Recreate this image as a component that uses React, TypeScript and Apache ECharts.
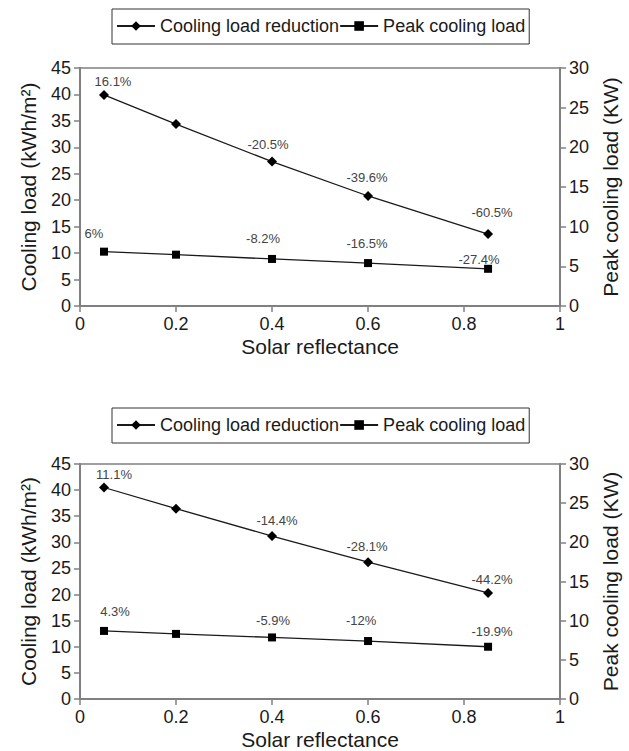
import React, { useEffect, useRef } from 'react';
import * as echarts from 'echarts';

// ---- data ----
const reflectance = [0.05, 0.2, 0.4, 0.6, 0.85];

const topCoolingLoad = [39.9, 34.4, 27.3, 20.8, 13.6];
const topCoolingLabels = ['16.1%', '', '-20.5%', '-39.6%', '-60.5%'];
const topPeakLoad = [6.85, 6.47, 5.93, 5.41, 4.69];
const topPeakLabels = ['6%', '', '-8.2%', '-16.5%', '-27.4%'];

const bottomCoolingLoad = [40.5, 36.45, 31.2, 26.2, 20.3];
const bottomCoolingLabels = ['11.1%', '', '-14.4%', '-28.1%', '-44.2%'];
const bottomPeakLoad = [8.69, 8.31, 7.86, 7.4, 6.67];
const bottomPeakLabels = ['4.3%', '', '-5.9%', '-12%', '-19.9%'];

const seriesNames = ['Cooling load reduction', 'Peak cooling load'];
const xAxisTitle = 'Solar reflectance';
const leftAxisTitle = 'Cooling load (kWh/m²)';
const rightAxisTitle = 'Peak cooling load (KW)';

// ---- label placement (style) ----
const topCoolingOffsets = [[9, -13], [0, 0], [-4, -17], [-1, -18], [4, -22]];
const topPeakOffsets = [[-10, -18], [0, 0], [-9, -20], [-1, -20], [-9, -9]];
const bottomCoolingOffsets = [[10, -13], [0, 0], [5, -16], [-1, -16], [4, -13]];
const bottomPeakOffsets = [[11, -19], [0, 0], [1, -17], [-7, -21], [4, -15]];

const FONT = 'Liberation Sans';
const AXIS_COLOR = '#808080';
const TEXT_COLOR = '#1a1a1a';
const W = 629;
const H = 751;

function buildData(values: number[], labels: string[], offsets: number[][]) {
  return reflectance.map((x, i) => ({
    value: [x, values[i]],
    label: {
      show: labels[i] !== '',
      formatter: labels[i],
      offset: offsets[i],
    },
  }));
}

function xAxis(gridIndex: number) {
  return {
    type: 'value',
    gridIndex,
    min: 0,
    max: 1,
    interval: 0.2,
    name: xAxisTitle,
    nameLocation: 'middle',
    nameGap: 30,
    nameTextStyle: { fontFamily: FONT, fontSize: 21, color: TEXT_COLOR },
    axisLine: { show: true, lineStyle: { color: AXIS_COLOR, width: 2 } },
    axisTick: { show: true, length: 6, lineStyle: { color: AXIS_COLOR, width: 1.5 } },
    axisLabel: {
      margin: 9,
      fontFamily: FONT,
      fontSize: 18,
      color: TEXT_COLOR,
      formatter: (v: number) => String(Math.round(v * 10) / 10),
    },
    splitLine: { show: false },
  };
}

function yAxis(gridIndex: number, side: 'left' | 'right') {
  const left = side === 'left';
  return {
    type: 'value',
    gridIndex,
    position: side,
    min: 0,
    max: left ? 45 : 30,
    interval: 5,
    name: left ? leftAxisTitle : rightAxisTitle,
    nameLocation: 'middle',
    nameRotate: 90,
    nameGap: left ? 41 : 37,
    nameTextStyle: { fontFamily: FONT, fontSize: 21, color: TEXT_COLOR },
    axisLine: { show: true, lineStyle: { color: AXIS_COLOR, width: 2 } },
    axisTick: { show: true, length: 6, lineStyle: { color: AXIS_COLOR, width: 1.5 } },
    axisLabel: { margin: 9, fontFamily: FONT, fontSize: 18, color: TEXT_COLOR },
    splitLine: { show: false },
  };
}

function lineSeries(
  name: string,
  xi: number,
  yi: number,
  symbol: string,
  symbolSize: number,
  data: any[]
) {
  return {
    type: 'line',
    name,
    xAxisIndex: xi,
    yAxisIndex: yi,
    symbol,
    symbolSize,
    data,
    itemStyle: { color: '#000' },
    lineStyle: { color: '#1a1a1a', width: 1.3 },
    label: {
      show: true,
      position: 'inside',
      align: 'center',
      verticalAlign: 'middle',
      fontFamily: FONT,
      fontSize: 13,
      color: '#444',
    },
    emphasis: { disabled: true },
  };
}

function legend(top: number) {
  return {
    data: seriesNames,
    left: 112,
    top,
    orient: 'horizontal',
    itemGap: 0,
    itemWidth: 38,
    itemHeight: 12,
    padding: [8, 4, 9, 4],
    borderColor: '#333',
    borderWidth: 1,
    selectedMode: false,
    textStyle: { fontFamily: FONT, fontSize: 18, color: TEXT_COLOR },
  };
}

export default function App() {
  const ref = useRef<HTMLDivElement>(null);

  useEffect(() => {
    if (!ref.current) return;
    document.documentElement.style.overflow = 'hidden';
    document.body.style.overflow = 'hidden';
    const chart = echarts.init(ref.current, undefined, { renderer: 'svg', width: W, height: H });
    chart.setOption({
      animation: false,
      backgroundColor: '#fff',
      legend: [legend(9), legend(408)],
      grid: [
        {
          left: 80,
          right: 63,
          top: 68,
          height: 238,
          show: true,
          borderColor: AXIS_COLOR,
          borderWidth: 1.5,
        },
        {
          left: 80,
          right: 63,
          top: 464,
          height: 237,
          show: true,
          borderColor: AXIS_COLOR,
          borderWidth: 1.5,
        },
      ],
      xAxis: [xAxis(0), xAxis(1)],
      yAxis: [yAxis(0, 'left'), yAxis(0, 'right'), yAxis(1, 'left'), yAxis(1, 'right')],
      series: [
        lineSeries(seriesNames[0], 0, 0, 'diamond', 10, buildData(topCoolingLoad, topCoolingLabels, topCoolingOffsets)),
        lineSeries(seriesNames[1], 0, 1, 'rect', 8, buildData(topPeakLoad, topPeakLabels, topPeakOffsets)),
        lineSeries(seriesNames[0], 1, 2, 'diamond', 10, buildData(bottomCoolingLoad, bottomCoolingLabels, bottomCoolingOffsets)),
        lineSeries(seriesNames[1], 1, 3, 'rect', 8, buildData(bottomPeakLoad, bottomPeakLabels, bottomPeakOffsets)),
      ],
    });
    return () => chart.dispose();
  }, []);

  return (
    <div
      ref={ref}
      style={{ position: 'fixed', left: 0, top: 0, width: W, height: H }}
    />
  );
}
